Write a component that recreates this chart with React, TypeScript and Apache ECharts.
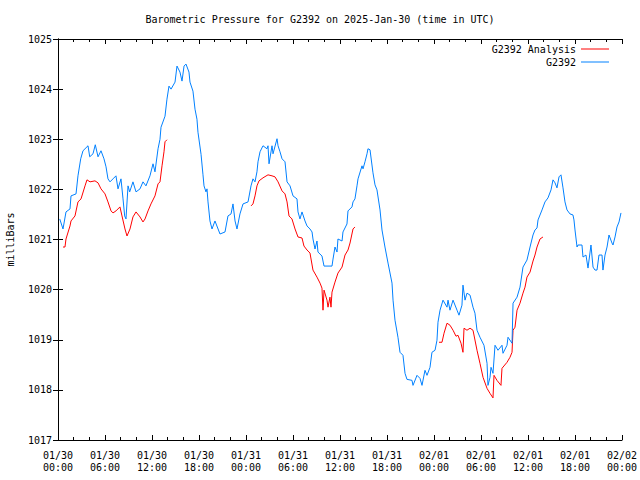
import React, { useEffect, useRef } from "react";
import * as echarts from "echarts";

const titleText = "Barometric Pressure for G2392 on 2025-Jan-30 (time in UTC)";
const yAxisName = "milliBars";
const seriesNames = ["G2392 Analysis", "G2392"];
const xTickLabels = [
  "01/30\n00:00", "01/30\n06:00", "01/30\n12:00", "01/30\n18:00",
  "01/31\n00:00", "01/31\n06:00", "01/31\n12:00", "01/31\n18:00",
  "02/01\n00:00", "02/01\n06:00", "02/01\n12:00", "02/01\n18:00",
  "02/02\n00:00",
];

// hours since 2025-01-30 00:00 UTC
const stationHours = [
  0.22, 0.64, 1.02, 1.53, 1.66, 2.30, 2.55, 2.90, 3.19, 3.83, 4.05, 4.47, 4.76, 5.11, 5.49, 5.87,
  6.13, 6.38, 6.64, 7.02, 7.40, 7.66, 8.04, 8.30, 8.51, 8.68, 8.94, 9.15, 9.57, 9.96, 10.47, 10.85,
  11.23, 11.74, 12.13, 12.38, 12.77, 13.02, 13.15, 13.66, 13.91, 14.17, 14.43, 14.94, 15.19, 15.57,
  15.83, 16.09, 16.34, 16.72, 16.85, 17.23, 17.49, 17.74, 17.87, 18.26, 18.51, 18.64, 18.89, 19.02,
  19.15, 19.40, 19.66, 20.04, 20.68, 21.32, 21.70, 22.09, 22.34, 22.60, 22.85, 23.23, 23.62, 24.26,
  24.64, 24.89, 25.15, 25.40, 25.53, 25.79, 26.17, 26.68, 26.81, 26.94, 27.32, 27.45, 27.96, 28.09,
  28.34, 28.60, 28.98, 29.24, 29.62, 30.00, 30.51, 30.64, 30.89, 31.15, 31.53, 31.79, 32.17, 32.43,
  32.55, 32.81, 33.06, 33.19, 33.70, 33.96, 34.98, 35.11, 35.36, 35.62, 35.74, 36.26, 36.38, 36.89,
  37.02, 37.53, 37.66, 37.91, 38.17, 38.30, 38.81, 38.94, 39.19, 39.45, 39.57, 39.83, 40.21, 40.47,
  40.72, 41.11, 41.36, 41.74, 42.13, 42.64, 42.77, 43.02, 43.40, 43.66, 44.04, 44.30, 44.55, 45.19,
  45.32, 45.83, 46.21, 46.47, 46.85, 47.11, 47.49, 47.74, 48.13, 48.38, 48.51, 48.77, 49.15, 49.66,
  49.79, 50.04, 50.43, 50.94, 51.19, 51.57, 51.70, 51.96, 52.21, 52.60, 52.98, 53.23, 53.49, 53.87,
  54.38, 54.77, 54.89, 55.15, 55.28, 55.53, 55.79, 56.17, 56.68, 56.81, 57.32, 57.45, 57.96, 58.09,
  58.60, 58.98, 59.36, 59.87, 60.26, 60.64, 60.89, 61.15, 61.28, 61.79, 62.17, 62.55, 62.94, 63.19,
  63.45, 63.70, 63.96, 64.21, 64.47, 64.72, 64.98, 65.36, 65.74, 65.87, 66.00, 66.26, 66.38, 66.89,
  67.02, 67.40, 67.66, 68.04, 68.30, 68.55, 68.81, 69.06, 69.45, 69.57, 69.83, 70.09, 70.34, 70.72,
  70.85, 71.11, 71.36, 71.62, 71.87,
];
const stationPressure = [
  1021.41, 1021.21, 1021.55, 1021.61, 1021.87, 1021.91, 1022.27, 1022.61, 1022.77, 1022.87, 1022.65, 1022.71, 1022.89, 1022.65, 1022.77, 1022.61,
  1022.45, 1022.21, 1022.15, 1022.21, 1022.27, 1022.01, 1022.21, 1021.81, 1021.47, 1021.41, 1022.07, 1021.95, 1022.15, 1021.95, 1022.01, 1022.15,
  1022.07, 1022.27, 1022.51, 1022.35, 1022.81, 1023.00, 1023.24, 1023.46, 1023.80, 1024.06, 1024.00, 1024.14, 1024.46, 1024.34,
  1024.16, 1024.46, 1024.50, 1024.34, 1024.14, 1023.96, 1023.60, 1023.40, 1023.14, 1022.70, 1022.29, 1022.07, 1021.95, 1022.01,
  1021.75, 1021.37, 1021.21, 1021.37, 1021.11, 1021.15, 1021.47, 1021.51, 1021.71, 1021.37, 1021.21, 1021.51, 1021.71, 1021.75,
  1022.07, 1022.21, 1022.15, 1022.35, 1022.55, 1022.75, 1022.87, 1022.81, 1022.87, 1022.51, 1022.87, 1022.71, 1023.01, 1022.87,
  1022.75, 1022.61, 1022.55, 1022.15, 1022.07, 1021.87, 1021.81, 1021.55, 1021.41, 1021.55, 1021.37, 1021.27, 1021.21, 1021.15,
  1021.01, 1020.81, 1020.97, 1020.75, 1020.67, 1020.47, 1020.47, 1020.61, 1020.85, 1020.75, 1021.01, 1020.97, 1021.15, 1021.31,
  1021.57, 1021.65, 1021.75, 1021.81, 1022.07, 1022.21, 1022.47, 1022.41, 1022.55, 1022.71, 1022.81, 1022.79, 1022.33, 1022.09,
  1021.99, 1021.59, 1021.19, 1020.85, 1020.53, 1020.13, 1019.79, 1019.39, 1019.05, 1018.75, 1018.69, 1018.33, 1018.21, 1018.19,
  1018.09, 1018.29, 1018.23, 1018.09, 1018.39, 1018.29, 1018.45, 1018.75, 1018.79, 1018.99, 1019.35, 1019.59, 1019.79, 1019.65,
  1019.79, 1019.59, 1019.79, 1019.59, 1019.49, 1019.69, 1020.09, 1019.79, 1019.93, 1019.89, 1019.65, 1019.53, 1019.19, 1019.05,
  1018.89, 1018.53, 1018.09, 1018.25, 1018.45, 1018.33, 1018.89, 1018.79, 1018.89, 1018.73, 1018.89, 1019.05, 1018.93, 1019.73,
  1019.85, 1020.05, 1020.45, 1020.59, 1020.85, 1021.09, 1021.19, 1021.23, 1021.39, 1021.59, 1021.75, 1021.83, 1021.99, 1022.19,
  1022.13, 1022.03, 1022.25, 1022.29, 1022.03, 1021.75, 1021.59, 1021.51, 1021.49, 1021.39, 1021.19, 1020.85, 1020.89, 1020.89,
  1020.65, 1020.69, 1020.43, 1020.89, 1020.45, 1020.39, 1020.39, 1020.69, 1020.69, 1020.39, 1020.69, 1020.85, 1021.09, 1020.93,
  1020.89, 1021.05, 1021.25, 1021.35, 1021.53,
];

// analysis: "-" marks a gap between segments
const analysisHours = [
  0.64, 0.89, 1.02, 1.53, 1.66, 2.17, 2.55, 2.94, 3.45, 3.70, 4.09, 4.72, 5.11, 5.49, 6.00, 6.38,
  6.77, 7.02, 7.40, 7.91, 8.17, 8.55, 8.81, 9.19, 9.57, 9.96, 10.47, 10.85, 11.11, 11.49, 11.87,
  12.38, 12.77, 13.02, 13.28, 13.53, 13.66, 13.91,
  19.0,
  24.64, 24.89, 25.15, 25.40, 25.66, 26.17, 26.81, 27.32, 27.70, 28.09, 28.60, 28.98, 29.24, 29.49,
  29.87, 30.26, 30.64, 31.15, 31.40, 31.79, 32.17, 32.55, 33.06, 33.45, 33.70, 33.83, 33.96, 34.34,
  34.47, 34.72, 34.85, 34.98, 35.36, 35.74, 36.26, 36.64, 37.02, 37.28, 37.66, 37.91,
  43.0,
  48.64, 49.02, 49.28, 49.66, 50.04, 50.43, 50.81, 51.06, 51.45, 51.70, 51.83, 52.21, 52.60, 52.98,
  53.49, 53.87, 54.26, 54.77, 55.15, 55.53, 55.66, 56.04, 56.55, 56.68, 57.32, 57.70, 57.96, 58.09,
  58.34, 58.60, 58.98, 59.36, 59.62, 59.87, 60.26, 60.64, 60.89, 61.15, 61.53, 61.91,
];
const analysisPressure: (number | string)[] = [
  1020.85, 1020.85, 1021.01, 1021.27, 1021.37, 1021.47, 1021.75, 1021.81, 1022.07, 1022.19, 1022.15, 1022.17, 1022.13, 1022.01, 1021.91, 1021.75,
  1021.57, 1021.53, 1021.57, 1021.65, 1021.47, 1021.21, 1021.07, 1021.21, 1021.45, 1021.55, 1021.45, 1021.35, 1021.41, 1021.57, 1021.71,
  1021.87, 1022.11, 1022.15, 1022.47, 1022.75, 1022.95, 1022.99,
  "-",
  1021.67, 1021.71, 1021.87, 1022.07, 1022.17, 1022.23, 1022.29, 1022.27, 1022.25, 1022.15, 1021.97, 1021.91, 1021.75, 1021.47,
  1021.41, 1021.21, 1021.05, 1021.03, 1020.87, 1020.79, 1020.73, 1020.39, 1020.25, 1020.13, 1020.03, 1019.59, 1019.99, 1019.79,
  1019.65, 1019.85, 1019.65, 1019.95, 1020.15, 1020.33, 1020.45, 1020.69, 1020.79, 1020.93, 1021.21, 1021.25,
  "-",
  1018.95, 1018.95, 1019.13, 1019.33, 1019.29, 1019.19, 1019.07, 1019.09, 1018.93, 1018.75, 1019.23, 1019.19, 1019.23, 1019.19,
  1018.79, 1018.53, 1018.25, 1018.03, 1017.93, 1017.84, 1018.29, 1018.19, 1018.09, 1018.43, 1018.55, 1018.65, 1018.75, 1019.19,
  1019.25, 1019.59, 1019.73, 1019.93, 1020.05, 1020.25, 1020.35, 1020.57, 1020.69, 1020.85, 1021.01, 1021.05,
];

const FONT = "DejaVu Sans Mono";

export default function App() {
  const ref = useRef<HTMLDivElement>(null);
  useEffect(() => {
    if (!ref.current) return;
    const chart = echarts.init(ref.current, undefined, { renderer: "svg" });
    const axisLine = { show: true, lineStyle: { color: "#000", width: 1 } };
    const xCommon = {
      type: "value" as const,
      min: 0,
      max: 72,
      interval: 6,
      axisLine,
      axisTick: { show: true, inside: true, length: 5, lineStyle: { color: "#000" } },
      minorTick: { show: true, splitNumber: 3, length: 3, lineStyle: { color: "#000" } },
      splitLine: { show: false },
      minorSplitLine: { show: false },
    };
    const yCommon = {
      type: "value" as const,
      min: 1017,
      max: 1025,
      interval: 1,
      axisLine,
      axisTick: { show: true, inside: true, length: 5, lineStyle: { color: "#000" } },
      splitLine: { show: false },
    };
    chart.setOption({
      animation: false,
      backgroundColor: "#ffffff",
      textStyle: { fontFamily: FONT },
      title: {
        text: titleText,
        left: "center",
        top: 9,
        textStyle: { fontFamily: FONT, fontSize: 10, fontWeight: "normal", color: "#000" },
      },
      grid: { left: 58, right: 18, top: 39, bottom: 40, containLabel: false, outerBoundsMode: "none" },
      legend: {
        orient: "vertical",
        right: 31,
        top: 43,
        padding: 0,
        align: "right",
        icon: "rect",
        itemWidth: 28,
        itemHeight: 1,
        itemGap: 1,
        data: seriesNames,
        textStyle: { fontFamily: FONT, fontSize: 10, color: "#000", lineHeight: 12 },
      },
      xAxis: [
        {
          ...xCommon,
          position: "bottom",
          axisLabel: {
            color: "#000",
            fontFamily: FONT,
            fontSize: 10,
            lineHeight: 12,
            margin: 9,
            formatter: (v: number) => xTickLabels[Math.round(v / 6)] ?? "",
          },
        },
        { ...xCommon, position: "top", axisLabel: { show: false } },
      ],
      yAxis: [
        {
          ...yCommon,
          position: "left",
          name: yAxisName,
          nameLocation: "middle",
          nameRotate: 90,
          nameGap: 43,
          nameTextStyle: { fontFamily: FONT, fontSize: 10, color: "#000" },
          axisLabel: {
            color: "#000",
            fontFamily: FONT,
            fontSize: 10,
            margin: 6,
            formatter: (v: number) => String(v),
          },
        },
        { ...yCommon, position: "right", axisLabel: { show: false } },
      ],
      series: [
        {
          name: seriesNames[0],
          type: "line",
          xAxisIndex: 0,
          yAxisIndex: 0,
          symbol: "none",
          connectNulls: false,
          lineStyle: { color: "#ff0000", width: 1 },
          itemStyle: { color: "#ff0000" },
          data: analysisHours.map((h, i) => [h, analysisPressure[i]]),
        },
        {
          name: seriesNames[1],
          type: "line",
          xAxisIndex: 0,
          yAxisIndex: 0,
          symbol: "none",
          lineStyle: { color: "#0080ff", width: 1 },
          itemStyle: { color: "#0080ff" },
          data: stationHours.map((h, i) => [h, stationPressure[i]]),
        },
      ],
    });
    return () => chart.dispose();
  }, []);
  return <div ref={ref} style={{ width: 640, height: 480, position: "absolute", left: 0, top: 0 }} />;
}
